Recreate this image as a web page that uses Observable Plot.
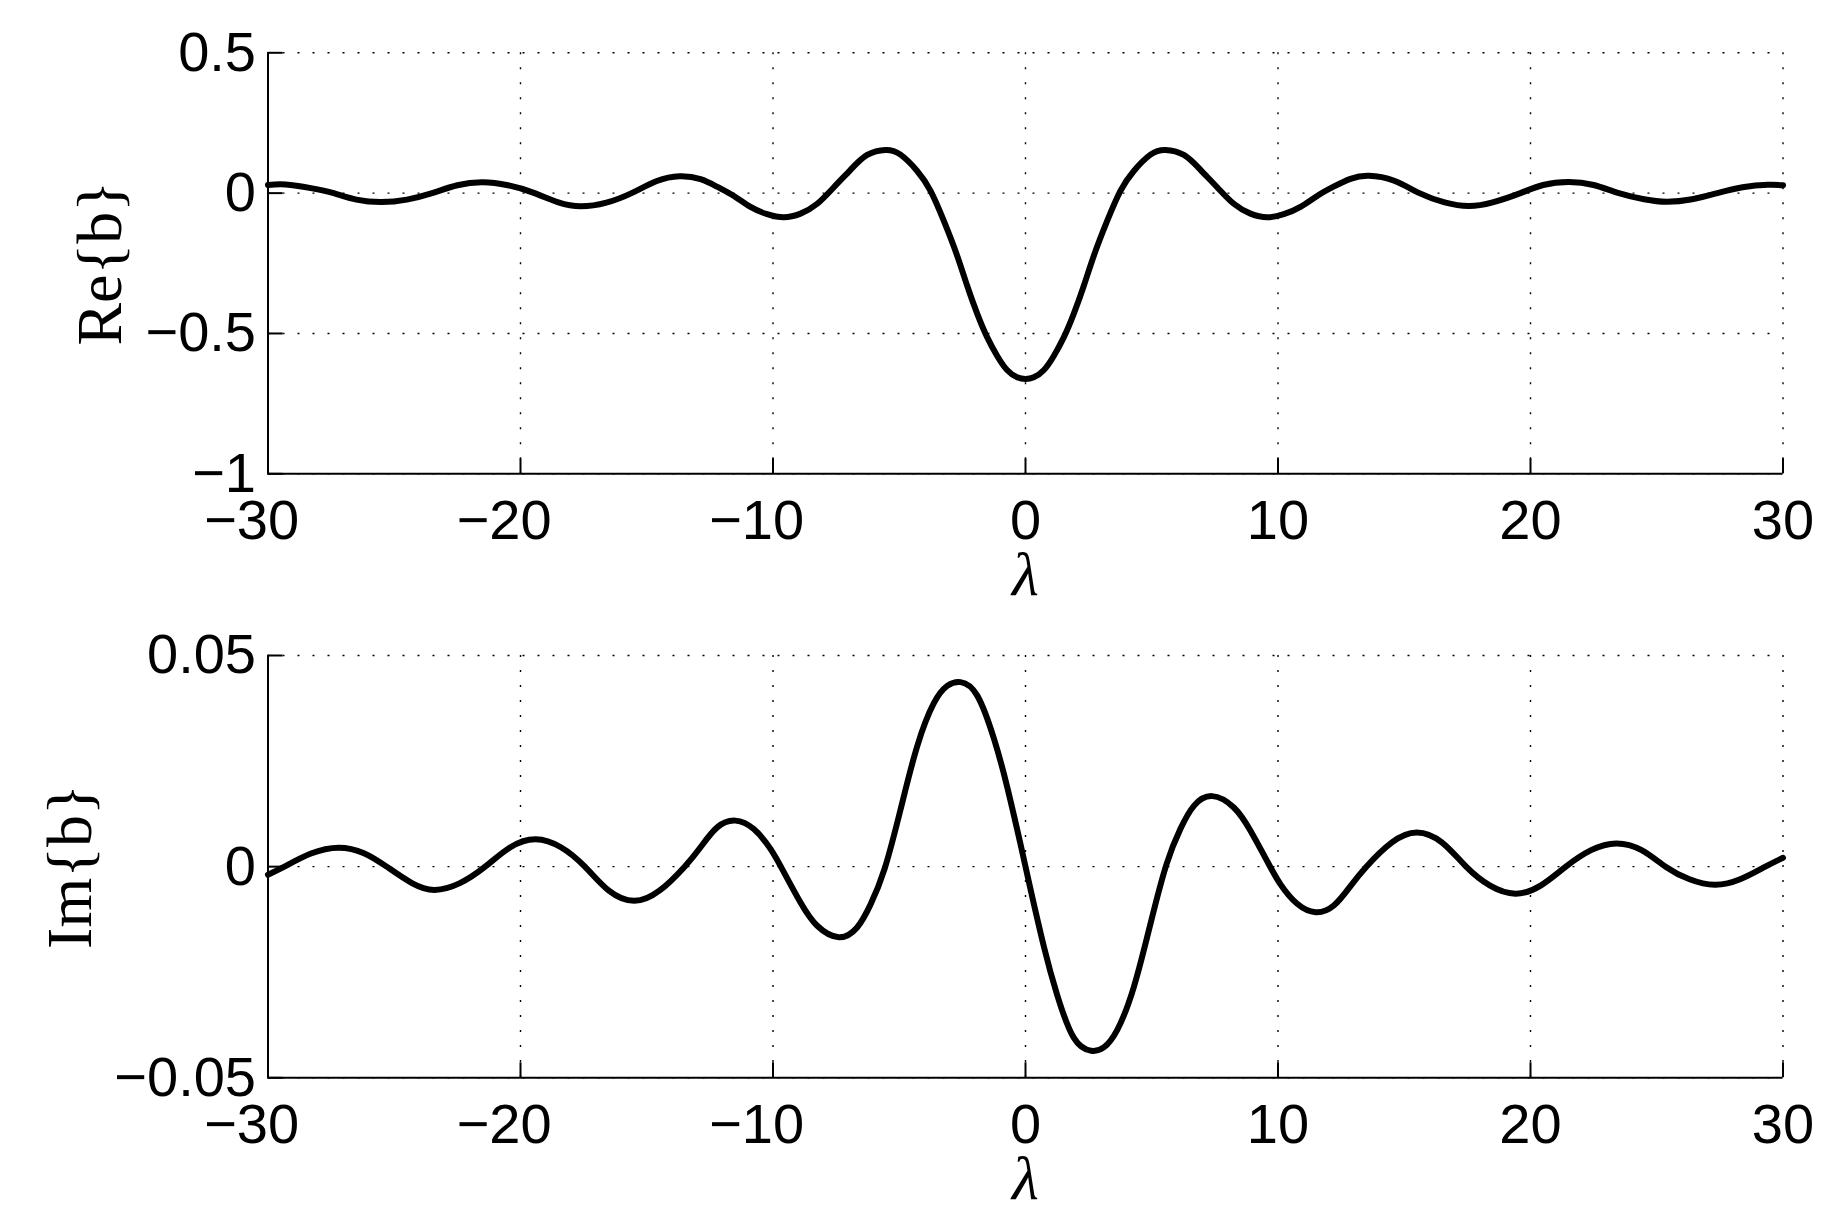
<!DOCTYPE html>
<html><head><meta charset="utf-8">
<script src="https://cdn.jsdelivr.net/npm/d3@7"></script>
<script src="https://cdn.jsdelivr.net/npm/@observablehq/plot@0.6"></script>
<style>
html,body{margin:0;padding:0;background:#fff;}
#chart{position:relative;width:1840px;height:1223px;overflow:hidden;}
#chart svg{position:absolute;left:0;}
</style></head><body><div id="chart"></div>
<script>
// Re{b} samples
const lambdaRe = [-30,-29.3,-28.3,-27.4,-26.5,-25.5,-24.5,-23.5,-22.5,-21.5,-20.5,-19.5,-18.5,-17.6,-16.6,-15.6,-14.6,-13.7,-12.87,-12.2,-11.55,-10.89,-10.23,-9.57,-8.91,-8.25,-7.59,-6.93,-6.27,-5.54,-4.95,-4.29,-3.76,-3.23,-2.71,-2.31,-1.91,-1.52,-1.12,-0.73,-0.33,0,0.33,0.73,1.12,1.52,1.91,2.31,2.71,3.23,3.76,4.29,4.95,5.54,6.27,6.93,7.59,8.25,8.91,9.57,10.23,10.89,11.55,12.2,12.87,13.6,14.6,15.6,16.6,17.55,18.5,19.6,20.5,21.5,22.5,23.5,24.5,25.4,26.4,27.4,28.4,29.4,30];
const reValues = [0.029,0.031,0.018,0.000,-0.023,-0.032,-0.023,0.000,0.028,0.039,0.028,0.002,-0.033,-0.047,-0.034,0.000,0.043,0.060,0.050,0.022,-0.010,-0.049,-0.075,-0.086,-0.073,-0.038,0.021,0.083,0.136,0.154,0.137,0.079,0.008,-0.100,-0.222,-0.330,-0.430,-0.513,-0.580,-0.630,-0.656,-0.662,-0.656,-0.630,-0.580,-0.513,-0.430,-0.330,-0.222,-0.100,0.008,0.079,0.137,0.154,0.136,0.083,0.021,-0.038,-0.073,-0.086,-0.075,-0.049,-0.010,0.023,0.051,0.062,0.044,0.000,-0.033,-0.046,-0.033,0.000,0.029,0.040,0.029,0.000,-0.022,-0.031,-0.022,0.000,0.021,0.030,0.028];

// Im{b} samples
const lambdaIm = [-30,-29.35,-28.3,-27.2,-26.2,-25.3,-24.3,-23.4,-22.4,-21.4,-20.4,-19.4,-18.4,-17.45,-16.5,-15.5,-14.5,-13.5,-12.87,-12.21,-11.49,-10.76,-10.1,-9.57,-8.91,-8.25,-7.39,-6.67,-6.14,-5.58,-4.95,-4.29,-3.63,-3.1,-2.57,-1.91,-1.25,-0.73,-0.2,0,0.2,0.73,1.25,1.91,2.6,3.1,3.63,4.29,4.95,5.58,6.14,6.67,7.39,8.25,8.91,9.57,10.1,10.76,11.49,12.21,12.87,13.5,14.5,15.5,16.5,17.45,18.4,19.4,20.4,21.4,22.4,23.4,24.4,25.35,26.3,27.3,28.3,29.3,30];
const imValues = [-0.0019,0.0000,0.0031,0.0045,0.0032,0.0000,-0.0039,-0.0055,-0.0039,0.0000,0.0046,0.0065,0.0046,0.0000,-0.0057,-0.0081,-0.0057,0.0000,0.0046,0.0093,0.0109,0.0089,0.0042,-0.0013,-0.0085,-0.0140,-0.0167,-0.0144,-0.0090,-0.0005,0.0135,0.0285,0.0387,0.0428,0.0437,0.0405,0.0303,0.0190,0.0054,0.0000,-0.0054,-0.0190,-0.0303,-0.0405,-0.0436,-0.0428,-0.0387,-0.0285,-0.0135,0.0005,0.0090,0.0144,0.0167,0.0140,0.0085,0.0013,-0.0042,-0.0088,-0.0108,-0.0092,-0.0046,0.0000,0.0057,0.0081,0.0057,0.0000,-0.0045,-0.0064,-0.0045,0.0000,0.0039,0.0055,0.0039,0.0000,-0.0030,-0.0043,-0.0030,0.0000,0.0021];

const xTicks = [-30,-20,-10,0,10,20,30];
const reTicks = [-1,-0.5,0,0.5];
const imTicks = [-0.05,0,0.05];
const xDomain = [-30, 30];
const reDomain = [-1, 0.5];
const imDomain = [-0.05, 0.05];
const xLabel = "λ";
const reLabel = "Re{b}";
const imLabel = "Im{b}";

const W = 1840, ML = 267.5, MR = 57.5;
const sans = "'Liberation Sans', Arial, Helvetica, sans-serif";
const serif = "'Liberation Serif', 'Times New Roman', serif";
const FS = 56;
const TICK = 15;
const fmt = d => d < 0 ? "\u2212" + Math.abs(d) : String(d);

function panel({lam, vals, yTicks, yDomain, yLabel, yLabelX, top, height, marginTop, marginBottom}) {
  const rows = lam.map((x, i) => ({x, y: vals[i]}));
  const innerH = height - marginTop - marginBottom;
  const innerW = W - ML - MR;
  const yTickLen = TICK * (yDomain[1] - yDomain[0]) / innerH;
  const xTickLen = TICK * (xDomain[1] - xDomain[0]) / innerW;
  const svg = Plot.plot({
    width: W, height,
    marginLeft: ML, marginRight: MR, marginTop, marginBottom,
    style: {background: "white", color: "black", overflow: "visible"},
    x: {domain: xDomain, axis: null},
    y: {domain: yDomain, axis: null},
    marks: [
      Plot.gridX(xTicks, {stroke: "black", strokeOpacity: 1, strokeWidth: 1.4, strokeDasharray: "2,13"}),
      Plot.gridY(yTicks, {stroke: "black", strokeOpacity: 1, strokeWidth: 1.4, strokeDasharray: "2,13"}),
      Plot.ruleX(xTicks, {x: d => d, y1: yDomain[0], y2: yDomain[0] + yTickLen, stroke: "black", strokeWidth: 2}),
      Plot.ruleY(yTicks, {y: d => d, x1: xDomain[0], x2: xDomain[0] + xTickLen, stroke: "black", strokeWidth: 2}),
      Plot.ruleX([xDomain[0]], {stroke: "black", strokeWidth: 2}),
      Plot.ruleY([yDomain[0]], {stroke: "black", strokeWidth: 2}),
      Plot.line(rows, {x: "x", y: "y", stroke: "black", strokeWidth: 6, curve: "natural"}),
      Plot.axisY(yTicks, {tickSize: 0, tickPadding: 12, fontSize: FS, fontFamily: sans, tickFormat: fmt, label: null}),
      Plot.text(xTicks, {x: d => d, text: d => String(Math.abs(d)), frameAnchor: "bottom", lineAnchor: "top", dy: 25, fontSize: FS, fontFamily: sans}),
      Plot.text(xTicks.filter(d => d < 0), {x: d => d, text: () => "\u2212", frameAnchor: "bottom", lineAnchor: "top", textAnchor: "end", dx: -31, dy: 25, fontSize: FS, fontFamily: sans}),
      Plot.text([xLabel], {frameAnchor: "bottom", lineAnchor: "middle", textAnchor: "middle", dy: 101, fontSize: 62, fontFamily: serif, fontStyle: "italic"}),
      Plot.text([yLabel], {frameAnchor: "left", rotate: -90, textAnchor: "middle", lineAnchor: "middle", dx: -(ML - yLabelX), fontSize: 64, fontFamily: serif})
    ]
  });
  svg.style.top = top + "px";
  document.getElementById("chart").appendChild(svg);
}

panel({lam: lambdaRe, vals: reValues, yTicks: reTicks, yDomain: reDomain, yLabel: reLabel, yLabelX: 100,
       top: 0, height: 611, marginTop: 52.3, marginBottom: 137.7});
panel({lam: lambdaIm, vals: imValues, yTicks: imTicks, yDomain: imDomain, yLabel: imLabel, yLabelX: 70,
       top: 611, height: 612, marginTop: 44, marginBottom: 145.7});
</script>
</body></html>
